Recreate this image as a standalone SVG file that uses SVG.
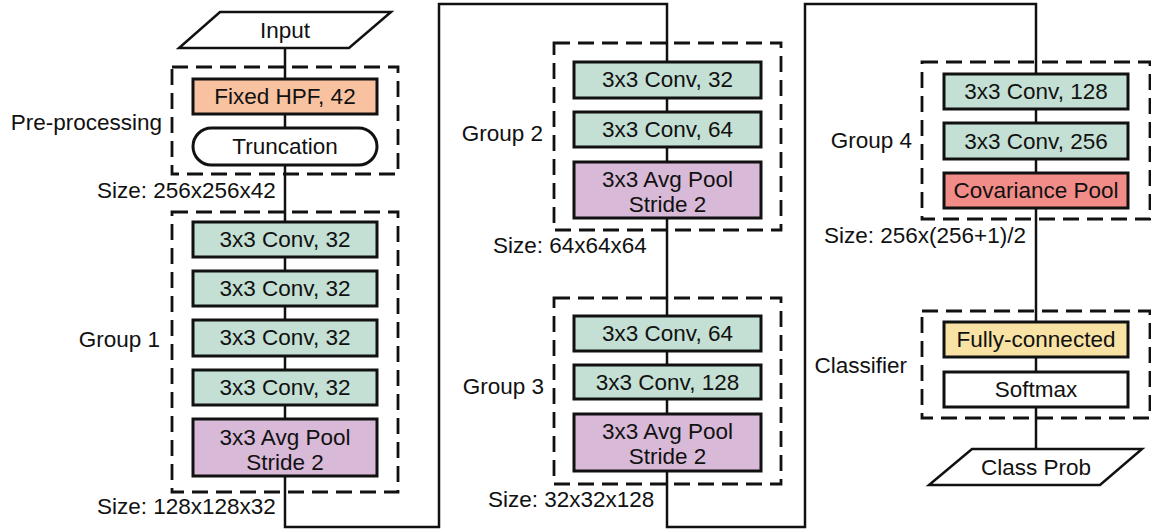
<svg xmlns="http://www.w3.org/2000/svg" width="1151" height="529" viewBox="0 0 1151 529">
<style>
text{font-family:"Liberation Sans",Arial,sans-serif;font-size:22.5px;fill:#111}
.c{text-anchor:middle}
.e{text-anchor:end}
.box{stroke:#111;stroke-width:3}
.conv{fill:#C4E0D4}
.pool{fill:#D9B9D8}
.hpf{fill:#F8C2A0}
.cov{fill:#F28C88}
.fc{fill:#F8E2A4}
.wh{fill:#fff}
.dash{fill:none;stroke:#111;stroke-width:2.8;stroke-dasharray:16 8}
.io{fill:#fff;stroke:#111;stroke-width:2.5;stroke-linejoin:miter}
</style>
<rect width="1151" height="529" fill="#fff"/>
<g id="connectors">
<polyline points="285,48 285,527 439,527 439,4 667,4 667,527 805,527 805,4 1036,4 1036,449" fill="none" stroke="#111" stroke-width="2.5"/>
</g>
<g id="groups">
<rect class="dash" x="172" y="67" width="226" height="107"/>
<text class="e" x="162" y="130">Pre-processing</text>
<text x="97" y="198">Size: 256x256x42</text>
<rect class="dash" x="172" y="212" width="226" height="280"/>
<text class="e" x="160" y="347">Group 1</text>
<text x="97" y="514">Size: 128x128x32</text>
<rect class="dash" x="554" y="43" width="227" height="187"/>
<text class="e" x="543" y="141">Group 2</text>
<text x="493" y="253">Size: 64x64x64</text>
<rect class="dash" x="554" y="298" width="227" height="186"/>
<text class="e" x="544" y="394">Group 3</text>
<text x="488" y="507">Size: 32x32x128</text>
<rect class="dash" x="922" y="62" width="228" height="157"/>
<text class="e" x="912" y="148">Group 4</text>
<text x="824" y="243">Size: 256x(256+1)/2</text>
<rect class="dash" x="922" y="311" width="228" height="107"/>
<text class="e" x="907" y="373">Classifier</text>
</g>
<g id="input"><polygon class="io" points="220,12 391,12 349,48 179,48"/><text class="c" x="285" y="38">Input</text></g>
<g id="hpf"><rect class="box hpf" x="193" y="79" width="184" height="35"/><text class="c" x="285" y="104">Fixed HPF, 42</text></g>
<g id="trunc"><rect class="box wh" x="193" y="128" width="184" height="37" rx="18.5"/><text class="c" x="285" y="154">Truncation</text></g>
<g id="g1c1"><rect class="box conv" x="193" y="222" width="184" height="35"/><text class="c" x="285" y="247">3x3 Conv, 32</text></g>
<g id="g1c2"><rect class="box conv" x="193" y="271" width="184" height="35"/><text class="c" x="285" y="296">3x3 Conv, 32</text></g>
<g id="g1c3"><rect class="box conv" x="193" y="320" width="184" height="36"/><text class="c" x="285" y="345">3x3 Conv, 32</text></g>
<g id="g1c4"><rect class="box conv" x="193" y="370" width="184" height="35"/><text class="c" x="285" y="395">3x3 Conv, 32</text></g>
<g id="g1p"><rect class="box pool" x="193" y="419" width="184" height="57"/><text class="c" x="285" y="445">3x3 Avg Pool</text><text class="c" x="285" y="470">Stride 2</text></g>
<g id="g2c1"><rect class="box conv" x="574" y="62" width="187" height="36"/><text class="c" x="667.5" y="87">3x3 Conv, 32</text></g>
<g id="g2c2"><rect class="box conv" x="574" y="112" width="187" height="35"/><text class="c" x="667.5" y="137">3x3 Conv, 64</text></g>
<g id="g2p"><rect class="box pool" x="574" y="162" width="187" height="56"/><text class="c" x="667.5" y="187">3x3 Avg Pool</text><text class="c" x="667.5" y="212">Stride 2</text></g>
<g id="g3c1"><rect class="box conv" x="574" y="316" width="187" height="35"/><text class="c" x="667.5" y="341">3x3 Conv, 64</text></g>
<g id="g3c2"><rect class="box conv" x="574" y="365" width="187" height="34"/><text class="c" x="667.5" y="390">3x3 Conv, 128</text></g>
<g id="g3p"><rect class="box pool" x="574" y="414" width="187" height="57"/><text class="c" x="667.5" y="439">3x3 Avg Pool</text><text class="c" x="667.5" y="464">Stride 2</text></g>
<g id="g4c1"><rect class="box conv" x="944" y="74" width="184" height="35"/><text class="c" x="1036" y="99">3x3 Conv, 128</text></g>
<g id="g4c2"><rect class="box conv" x="944" y="123" width="184" height="36"/><text class="c" x="1036" y="149">3x3 Conv, 256</text></g>
<g id="covpool"><rect class="box cov" x="944" y="173" width="184" height="35"/><text class="c" x="1036" y="198">Covariance Pool</text></g>
<g id="fc"><rect class="box fc" x="944" y="322" width="184" height="35"/><text class="c" x="1036" y="347">Fully-connected</text></g>
<g id="softmax"><rect class="box wh" x="944" y="372" width="184" height="35"/><text class="c" x="1036" y="397">Softmax</text></g>
<g id="classprob"><polygon class="io" points="972,449 1142,449 1100,485 929,485"/><text class="c" x="1036" y="475">Class Prob</text></g>
</svg>
